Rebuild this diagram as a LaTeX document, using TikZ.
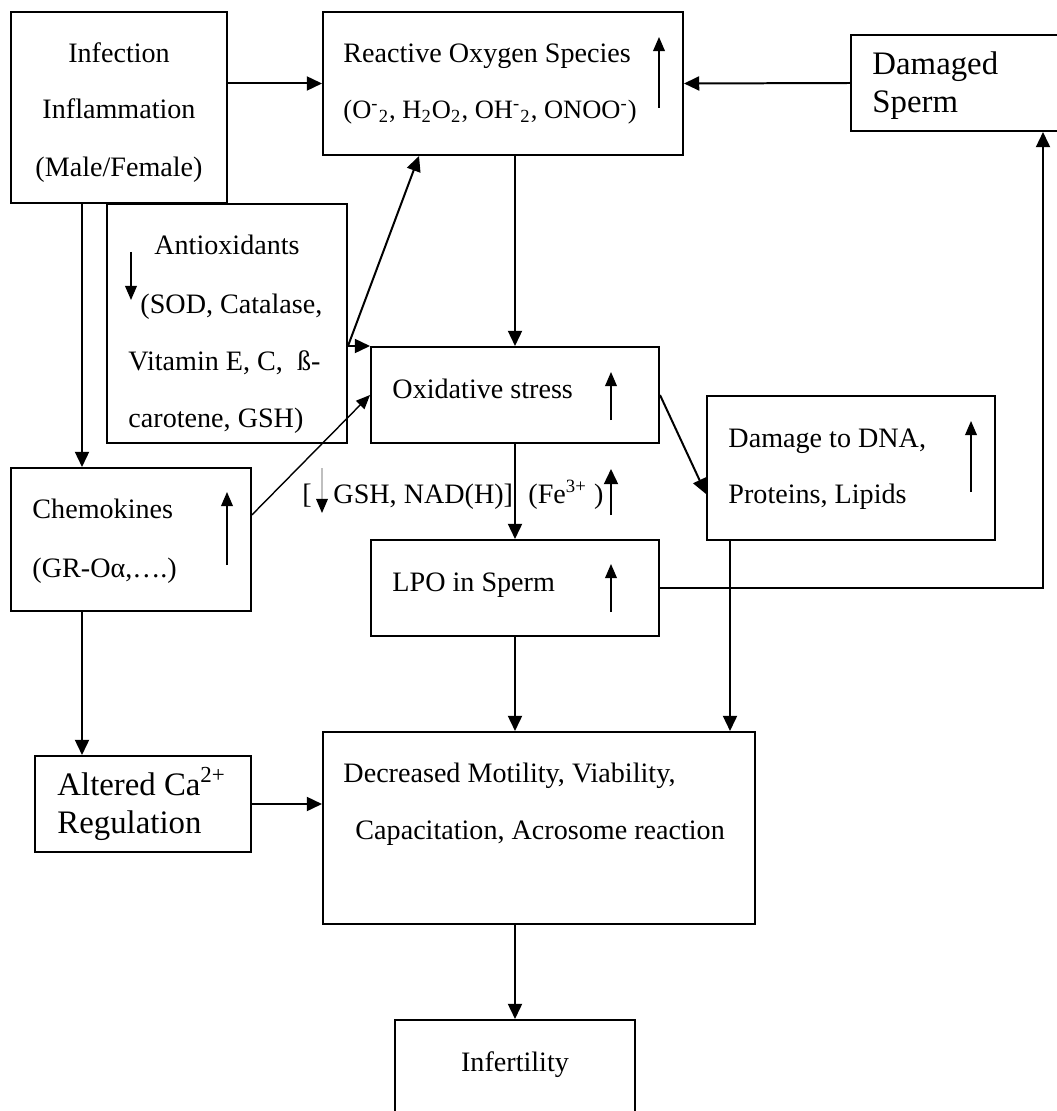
\documentclass[tikz,border=0pt]{standalone}
\usepackage{fontspec}
\setmainfont{Liberation Serif}
\usetikzlibrary{arrows.meta,fit}

\begin{document}
\begin{tikzpicture}[x=0.015cm,y=-0.015cm,
  box/.style={draw,line width=0.85pt,inner sep=0pt},
  txt/.style={anchor=base west,inner sep=0pt,font=\fontsize{12}{14}\selectfont},
  bigtxt/.style={anchor=base west,inner sep=0pt,font=\fontsize{14}{16}\selectfont},
  arr/.style={-{Triangle[length=6.5pt,width=6pt]},line width=0.85pt},
  thinarr/.style={-{Triangle[length=6pt,width=5pt]},line width=0.6pt}]
\useasboundingbox (0,0) rectangle (1057,1111);
\clip (0,0) rectangle (1057,1111);

\node[box,fit={(11,12) (227,203)}] (infect) {};
\node[box,fit={(323,12) (683,155)}] (ros) {};
\node[box,fit={(851,35) (1080,131)}] (dmg) {};
\node[box,fit={(107,204) (347,443)}] (anti) {};
\node[box,fit={(371,347) (659,443)}] (oxs) {};
\node[box,fit={(11,468) (251,611)}] (chemo) {};
\node[box,fit={(707,396) (995,540)}] (dna) {};
\node[box,fit={(371,540) (659,636)}] (lpo) {};
\node[box,fit={(35,756) (251,852)}] (calc) {};
\node[box,fit={(323,732) (755,924)}] (dec) {};
\node[box,fit={(395,1020) (635,1140)}] (infert) {};
\coordinate (bend) at (1043,588);

\node[txt,anchor=base] (infect1) at (119,63) {Infection};
\node[txt,anchor=base] (infect2) at (119,119) {Inflammation};
\node[txt,anchor=base] (infect3) at (119,177) {(Male/Female)};
\node[txt] (ros1) at (343,63) {Reactive Oxygen Species};
\node[txt,font=\fontsize{11.3}{14}\selectfont] (ros2) at (343,119) {(O\textsuperscript{-}\textsubscript{2}, H\textsubscript{2}O\textsubscript{2}, OH\textsuperscript{-}\textsubscript{2}, ONOO\textsuperscript{-})};
\node[bigtxt] (dmg1) at (872,75) {Damaged};
\node[bigtxt] (dmg2) at (872,113) {Sperm};
\node[txt,anchor=base] (anti1) at (227,255) {Antioxidants};
\node[txt] (anti2) at (140,313) {(SOD, Catalase,};
\node[txt] (anti3) at (128,370) {Vitamin E, C, \ ß-};
\node[txt] (anti4) at (128,427) {carotene, GSH)};
\node[txt] (oxs1) at (392,399) {Oxidative stress};
\node[txt] (gsh1) at (302,503) {[};
\node[txt] (gsh2) at (333,503) {GSH, NAD(H)]};
\node[txt] (fe) at (528,503) {(Fe\textsuperscript{3+} )};
\node[txt] (lpo1) at (392,591) {LPO in Sperm};
\node[txt] (dna1) at (728,447) {Damage to DNA,};
\node[txt] (dna2) at (728,503) {Proteins, Lipids};
\node[txt] (chemo1) at (32,518) {Chemokines};
\node[txt] (chemo2) at (32,577) {(GR-Oα,….)};
\node[bigtxt] (calc1) at (57,795) {Altered Ca\textsuperscript{2+}};
\node[bigtxt] (calc2) at (57,833) {Regulation};
\node[txt] (dec1) at (343,782) {Decreased Motility, Viability,};
\node[txt] (dec2) at (355,839) {Capacitation, Acrosome reaction};
\node[txt,anchor=base] (infert1) at (515,1071) {Infertility};

\draw[arr] (ros.west -| infect.east) -- (ros.west);
\draw[arr] (dmg.west) -- (ros.east);
\draw[arr] (oxs.north |- ros.south) -- (oxs.north);
\draw[arr] (anti.east |- oxs.north) -- ([xshift=1.455cm]ros.south west);
\draw[arr] (anti.east |- oxs.north) -- (oxs.north west);
\draw[arr] ([xshift=1.08cm]infect.south west) -- ([xshift=1.08cm]chemo.north west);
\draw[thinarr] ([yshift=0.37cm]chemo.east) -- (oxs.west);
\draw[arr] (oxs.south) -- (lpo.north);
\draw[arr] (oxs.east) -- ([yshift=-0.39cm]dna.west);
\draw[arr] (lpo.east) -- (bend) -- (bend |- dmg.south);
\draw[arr] (lpo.south) -- (lpo.south |- dec.north);
\draw[arr] ([xshift=0.36cm]dna.south west) -- ([xshift=0.36cm]dna.south west |- dec.north);
\draw[arr] ([xshift=1.08cm]chemo.south west) -- ([xshift=1.08cm]chemo.south west |- calc.north);
\draw[arr] (calc.east) -- (calc.east -| dec.west);
\draw[arr] (infert.north |- dec.south) -- (infert.north);

\foreach \x/\a/\b in {659/108/37, 611/420/372, 611/612/564, 971/492/421, 227/565/492, 131/252/300}
  \draw[thinarr] (\x,\a) -- (\x,\b);
\draw[arr] (611,515) -- (611,469);
\draw[-{Triangle[length=6pt,width=5pt,color=black]},gray!50,line width=0.5pt] (322,468) -- (322,513);
\end{tikzpicture}
\end{document}
